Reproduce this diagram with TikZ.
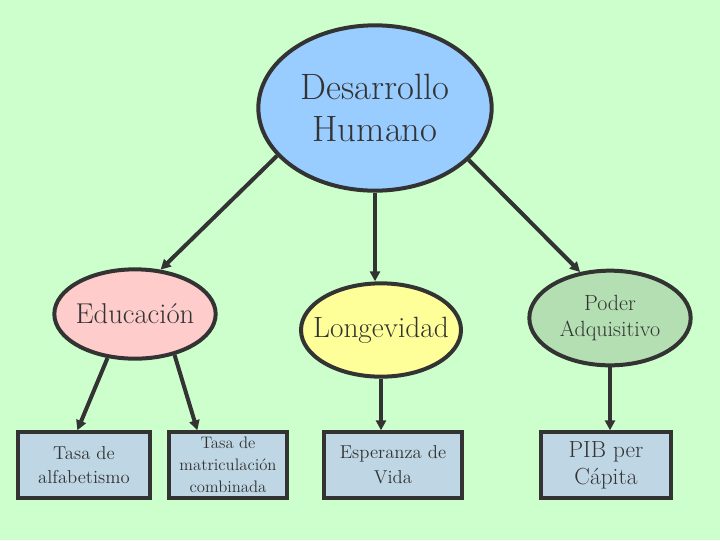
\documentclass[tikz,border=0pt]{standalone}
\usepackage{fontspec}
\usetikzlibrary{arrows.meta,shapes.geometric}

\definecolor{fondo}{HTML}{CCFFCC}
\definecolor{azul}{HTML}{99CCFF}
\definecolor{rosa}{HTML}{FFCCCC}
\definecolor{amarillo}{HTML}{FFFF99}
\definecolor{verde}{HTML}{B3DFB3}
\definecolor{caja}{HTML}{BFD7E5}
\definecolor{trazo}{HTML}{333333}

\begin{document}
\begin{tikzpicture}[
x=0.75pt, y=-0.75pt,
bubble/.style={ellipse, draw=trazo, line width=3pt, inner xsep=-9pt, inner ysep=0pt, align=center, text=trazo},
box/.style={rectangle, draw=trazo, fill=caja, line width=3pt, inner sep=0pt, minimum height=49pt, align=center, text=trazo},
arrow/.style={-{Triangle[length=7.5pt,width=7.5pt]}, line width=3pt, draw=trazo}
]
\fill[fondo] (0,0) rectangle (720,540);

\node[bubble, fill=azul, minimum width=175pt, minimum height=124pt, font=\fontsize{27.5}{31.5}\selectfont] (des) at (375,108) {Desarrollo\\ Humano};

\node[bubble, fill=rosa, minimum width=121pt, minimum height=67pt, font=\fontsize{21.5}{25}\selectfont] (edu) at (135,314) {Educación};
\node[bubble, fill=amarillo, minimum width=120pt, minimum height=70pt, font=\fontsize{22}{25}\selectfont] (lon) at (381,330) {Longevidad};
\node[bubble, fill=verde, minimum width=121pt, minimum height=71pt, font=\fontsize{16.5}{19}\selectfont] (pod) at (610,318) {Poder\\ Adquisitivo};

\node[box, minimum width=99pt, font=\fontsize{14}{18.5}\selectfont] (alf) at (84,465) {Tasa de\\ alfabetismo};
\node[box, minimum width=89pt, font=\fontsize{12.5}{16.5}\selectfont] (mat) at (228,465) {Tasa de\\ matriculación\\ combinada};
\node[box, minimum width=103pt, font=\fontsize{14}{18.5}\selectfont] (esp) at (393,465) {Esperanza de\\ Vida};
\node[box, minimum width=98pt, font=\fontsize{17.5}{20}\selectfont] (pib) at (606,465) {PIB per\\ Cápita};

% conectores
\draw[arrow] (des.206) -- (edu.60);
\draw[arrow] (des.south) -- (des.south |- lon.north);
\draw[arrow] (des.-29) -- (pod.123);
\draw[arrow] (edu.-122) -- ([xshift=-5pt]alf.north);
\draw[arrow] (edu.-46) -- ([xshift=-23pt]mat.north);
\draw[arrow] (lon.south) -- (lon.south |- esp.north);
\draw[arrow] (pod.south) -- (pod.south |- pib.north);
\end{tikzpicture}
\end{document}
